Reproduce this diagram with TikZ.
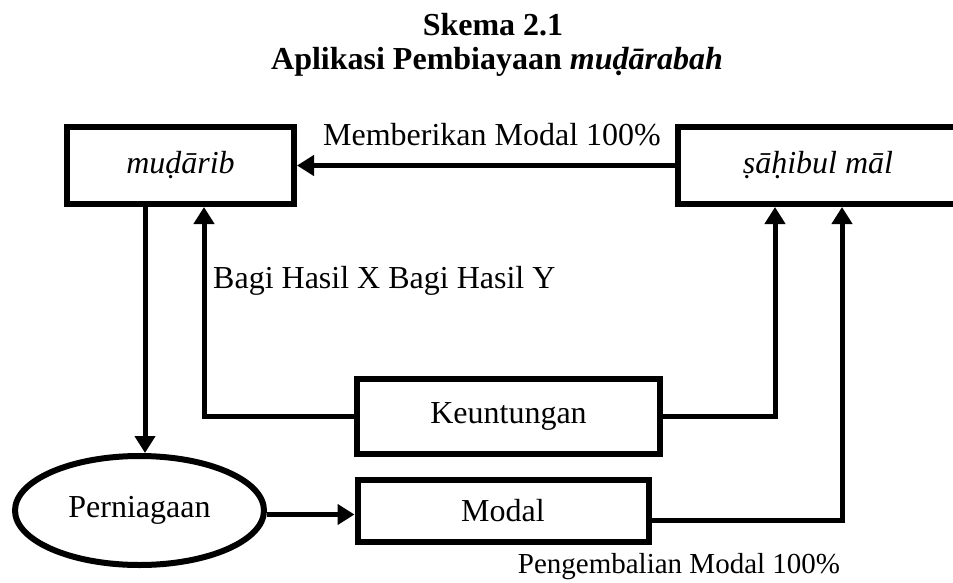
\documentclass[tikz,border=0pt]{standalone}
\usepackage{fontspec}
\setmainfont{Liberation Serif}
\usetikzlibrary{arrows.meta,shapes.geometric}
\tikzset{
  box/.style={draw, line width=6pt, rectangle, inner sep=0pt, font=\fontsize{32}{38}\selectfont},
  oval/.style={draw, ellipse, line width=6pt, inner sep=0pt, font=\fontsize{32}{38}\selectfont},
  conn/.style={line width=5pt, -{Triangle[length=17pt,width=20pt]}},
  lbl/.style={font=\fontsize{32}{38}\selectfont, inner sep=0pt},
  small/.style={font=\fontsize{29}{34}\selectfont, inner sep=0pt},
  ttl/.style={font=\bfseries\fontsize{32}{38}\selectfont, inner sep=0pt}
}
\begin{document}
\begin{tikzpicture}[x=1pt,y=-1pt]
\useasboundingbox (0,0) rectangle (953,583);
\clip (0,0) rectangle (953,583);
\node[ttl] (t1) at (493,25) {Skema 2.1};
\node[ttl] (t2) at (497,62) {Aplikasi Pembiayaan \textit{muḍārabah}};

\node[box, minimum width=227pt, minimum height=77pt] (mud) at (180.5,165.5) {\textit{muḍārib}};
\node[box, minimum width=320pt, minimum height=77pt] (sah) at (838,165.5) {\hspace*{-40pt}\textit{ṣāḥibul māl}};
\node[box, minimum width=303pt, minimum height=75pt] (keu) at (508.5,416) {Keuntungan};
\node[box, minimum width=291pt, minimum height=62pt] (mod) at (503,511) {Modal};
\node[oval, minimum width=249pt, minimum height=109pt] (per) at (139.5,510.5) {\raisebox{6pt}{Perniagaan}};

\node[lbl] (l1) at (492,135) {Memberikan Modal 100\%};
\node[lbl, anchor=west] (l2) at (213,281) {Bagi Hasil X Bagi Hasil Y};
\node[small] (l3) at (679,567) {Pengembalian Modal 100\%};

\draw[conn] (sah.west) -- (mud.east);
\draw[conn] ([xshift=-35.5pt]mud.south) -- ([xshift=-35.5pt]mud.south |- per.north);
\draw[conn] (keu.west) -| ([xshift=23.5pt]mud.south);
\draw[conn] (keu.east) -| ([xshift=-63pt]sah.south);
\draw[conn] ([yshift=-9pt]mod.east) -| ([xshift=4pt]sah.south);
\draw[conn] ([yshift=-4pt]per.east) -- ([yshift=-4pt]per.east -| mod.west);
\end{tikzpicture}
\end{document}
